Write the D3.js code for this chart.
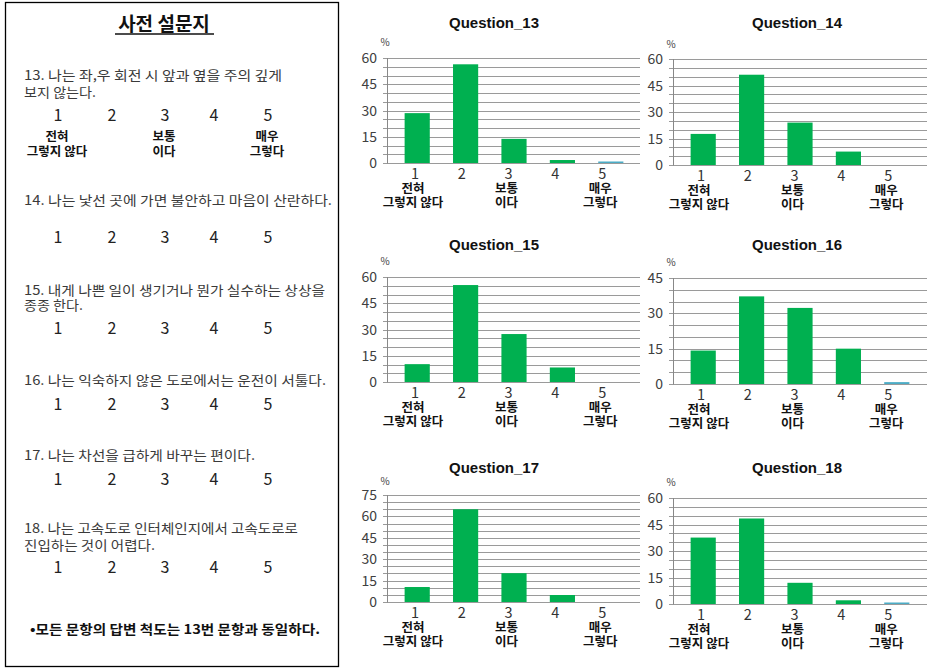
<!DOCTYPE html>
<html><head><meta charset="utf-8">
<script src="https://cdn.jsdelivr.net/npm/d3@7"></script>
<style>
html,body{margin:0;padding:0;background:#fff;}
svg{display:block;}
</style></head>
<body>
<svg id="chart" width="945" height="669"></svg>
<script>
// ---------- data ----------
const categories = ["1", "2", "3", "4", "5"];
const scaleLabels = [["전혀", "그렇지 않다"], [], ["보통", "이다"], [], ["매우", "그렇다"]];
const chartTitles = ["Question_13", "Question_14", "Question_15", "Question_16", "Question_17", "Question_18"];
const q13 = [28.5, 56.4, 13.8, 1.7, 0.6];
const q14 = [17.6, 51.1, 24.0, 7.6, 0];
const q15 = [10.2, 55.4, 27.4, 8.3, 0];
const q16 = [14.2, 37.2, 32.3, 15.0, 0.8];
const q17 = [10.5, 65.0, 20.2, 4.9, 0];
const q18 = [37.6, 48.4, 12.0, 2.1, 0.5];
const yMaxes = [60, 60, 60, 45, 75, 60];
const labelStep = 15;
const gridStep = 5;

const surveyTitle = "사전 설문지";
const surveyQuestions = [
  ["13. 나는 좌,우 회전 시 앞과 옆을 주의 깊게", "보지 않는다."],
  ["14. 나는 낯선 곳에 가면 불안하고 마음이 산란하다."],
  ["15. 내게 나쁜 일이 생기거나 뭔가 실수하는 상상을", "종종 한다."],
  ["16. 나는 익숙하지 않은 도로에서는 운전이 서툴다."],
  ["17. 나는 차선을 급하게 바꾸는 편이다."],
  ["18. 나는 고속도로 인터체인지에서 고속도로로", "진입하는 것이 어렵다."]
];
const surveyNote = "•모든 문항의 답변 척도는 13번 문항과 동일하다.";

const seriesList = [q13, q14, q15, q16, q17, q18];

// ---------- layout ----------
const svg = d3.select("#chart");
const KR = "'Noto Sans CJK KR','Noto Sans',sans-serif";
const GREEN = "#00b050", TEAL = "#4bacc6";

// left panel
const lp = svg.append("g");
lp.append("rect").attr("x", 5.5).attr("y", 2.5).attr("width", 333).attr("height", 664)
  .attr("fill", "none").attr("stroke", "#000").attr("stroke-width", 1.3);
lp.append("text").attr("x", 164).attr("y", 31).attr("text-anchor", "middle")
  .attr("font-family", KR).attr("font-weight", "bold").attr("font-size", 19)
  .attr("fill", "#111").text(surveyTitle);
lp.append("line").attr("x1", 115).attr("x2", 214).attr("y1", 34).attr("y2", 34)
  .attr("stroke", "#111").attr("stroke-width", 1.3);

const qLineY = [[75, 92], [200], [290, 305], [380], [455], [528, 545]];
const qLineW = [[258, 72], [308], [301, 59], [302], [231], [274, 131]];
const numY = [115, 237, 328, 404, 479, 567];
const numXs = [58, 112, 165, 214, 268];

surveyQuestions.forEach((lines, qi) => {
  const t = lp.append("text").attr("font-family", KR).attr("font-size", 13).attr("fill", "#3a3a3a");
  lines.forEach((ln, li) => {
    t.append("tspan").attr("x", 24).attr("y", qLineY[qi][li] + 5)
      .attr("textLength", qLineW[qi][li]).attr("lengthAdjust", "spacingAndGlyphs")
      .text(ln);
  });
  categories.forEach((c, ci) => {
    lp.append("text").attr("x", numXs[ci]).attr("y", numY[qi] + 6)
      .attr("text-anchor", "middle").attr("font-family", KR).attr("font-size", 16)
      .attr("fill", "#222").text(c);
  });
});
// scale labels under question 13
scaleLabels.forEach((lab, ci) => {
  if (!lab.length) return;
  const t = lp.append("text").attr("text-anchor", "middle").attr("font-family", KR)
    .attr("font-weight", "bold").attr("font-size", 12.5).attr("fill", "#111");
  lab.forEach((s, li) => {
    t.append("tspan").attr("x", numXs[ci] - 1).attr("y", 136 + li * 15 + 5).text(s);
  });
});
lp.append("text").attr("x", 30).attr("y", 634)
  .attr("font-family", KR).attr("font-weight", "bold").attr("font-size", 13)
  .attr("fill", "#111").attr("textLength", 290).attr("lengthAdjust", "spacingAndGlyphs")
  .text(surveyNote);

// charts
const panels = [
  {x0: 387, x1: 640, top: 58, bottom: 163, titleX: 494, titleY: 23, pctY: 43},
  {x0: 673, x1: 927, top: 59, bottom: 165, titleX: 797, titleY: 23, pctY: 45},
  {x0: 387, x1: 640, top: 277, bottom: 382, titleX: 494, titleY: 245, pctY: 262},
  {x0: 673, x1: 927, top: 278, bottom: 384, titleX: 797, titleY: 245, pctY: 263},
  {x0: 387, x1: 640, top: 495, bottom: 602, titleX: 494, titleY: 468, pctY: 482},
  {x0: 673, x1: 927, top: 498, bottom: 604, titleX: 797, titleY: 468, pctY: 483}
];

panels.forEach((p, i) => {
  const g = svg.append("g");
  const vals = seriesList[i];
  const ymax = yMaxes[i];
  const y = d3.scaleLinear().domain([0, ymax]).range([p.bottom, p.top]);
  const x = d3.scaleBand().domain(categories).range([p.x0 + 6, p.x0 + 248]).paddingInner(0.48).paddingOuter(0.24);
  const xl = d3.scaleBand().domain(categories).range([p.x0 + 4.6, p.x0 + 238.6]);

  // gridlines
  const grid = d3.range(0, ymax + 0.001, gridStep);
  g.selectAll("line.grid").data(grid).join("line")
    .attr("x1", p.x0 - 4).attr("x2", p.x1)
    .attr("y1", d => Math.round(y(d)) + 0.5).attr("y2", d => Math.round(y(d)) + 0.5)
    .attr("stroke", "#9a9a9a").attr("stroke-width", 1);
  // y axis line
  g.append("line").attr("x1", p.x0 + 0.5).attr("x2", p.x0 + 0.5)
    .attr("y1", y(ymax)).attr("y2", y(0) + 0.5).attr("stroke", "#888");
  // y labels
  g.selectAll("text.yl").data(d3.range(0, ymax + 0.001, labelStep)).join("text")
    .attr("x", p.x0 - 10).attr("y", d => y(d) + 5)
    .attr("text-anchor", "end").attr("font-family", KR).attr("font-size", 14)
    .attr("fill", "#404040").text(d => d);
  // percent
  g.append("text").attr("x", p.x0 - 2).attr("y", p.pctY + 3).attr("text-anchor", "middle")
    .attr("font-family", KR).attr("font-size", 10).attr("fill", "#404040").text("%");
  // title
  g.append("text").attr("x", p.titleX).attr("y", p.titleY + 5).attr("text-anchor", "middle")
    .attr("font-family", "'Liberation Sans',Arial,sans-serif").attr("font-weight", "bold").attr("font-size", 15)
    .attr("fill", "#111").text(chartTitles[i]);
  // bars
  g.selectAll("rect.bar").data(vals).join("rect")
    .attr("x", (d, k) => x(categories[k])).attr("width", x.bandwidth())
    .attr("y", d => Math.min(y(d), y(0) - (d > 0 ? 1.5 : 0)))
    .attr("height", d => d > 0 ? Math.max(y(0) - y(d), 1.5) : 0)
    .attr("fill", (d, k) => k === 4 ? TEAL : GREEN);
  // x labels: one text per category (digit + scale description lines)
  categories.forEach((c, k) => {
    const cx = xl(c) + xl.bandwidth() / 2;
    const t = g.append("text").attr("text-anchor", "middle").attr("font-family", KR);
    t.append("tspan").attr("x", cx).attr("y", p.bottom + 16)
      .attr("font-size", 14.5).attr("fill", "#333").text(c);
    scaleLabels[k].forEach((s, li) => {
      t.append("tspan").attr("x", cx - 2).attr("y", p.bottom + 30 + li * 14)
        .attr("font-weight", "bold").attr("font-size", 12.5).attr("fill", "#111").text(s);
    });
  });
});
</script>
</body></html>
